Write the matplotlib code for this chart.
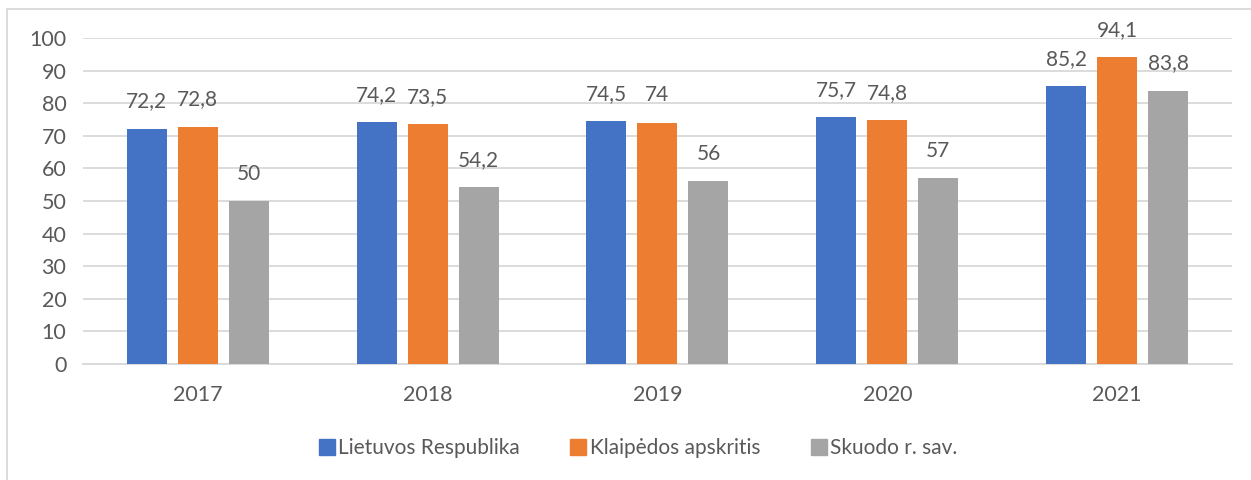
import matplotlib
matplotlib.use("Agg")
import matplotlib.pyplot as plt
from matplotlib.lines import Line2D
import numpy as np

plt.rcParams['font.family'] = ['Lato', 'DejaVu Sans']

years = ["2017", "2018", "2019", "2020", "2021"]
series_names = ["Lietuvos Respublika", "Klaipėdos apskritis", "Skuodo r. sav."]
lietuvos = [72.2, 74.2, 74.5, 75.7, 85.2]
klaipedos = [72.8, 73.5, 74.0, 74.8, 94.1]
skuodo = [50.0, 54.2, 56.0, 57.0, 83.8]
labels_lt = ["72,2", "74,2", "74,5", "75,7", "85,2"]
labels_kl = ["72,8", "73,5", "74", "74,8", "94,1"]
labels_sk = ["50", "54,2", "56", "57", "83,8"]
colors = ["#4472C4", "#ED7D31", "#A5A5A5"]
text_color = "#595959"

fig = plt.figure(figsize=(12.51, 4.8), dpi=100)
ax = fig.add_axes([0.0663, 0.2417, 0.9185, 0.6791])

x = np.arange(len(years))
width = 0.174
offsets = [-0.222, 0.0, 0.222]
all_vals = [lietuvos, klaipedos, skuodo]
all_labels = [labels_lt, labels_kl, labels_sk]

for vals, labs, off, col, name in zip(all_vals, all_labels, offsets, colors, series_names):
    bars = ax.bar(x + off, vals, width, color=col, label=name, zorder=3)
    for b, lab in zip(bars, labs):
        ax.annotate(lab, (b.get_x() + b.get_width() / 2, b.get_height()),
                    xytext=(0, 12.5), textcoords="offset points",
                    ha="center", va="bottom", fontsize=15, color=text_color)

ax.set_xlim(-0.5, len(years) - 0.5)
ax.set_ylim(0, 100)
ax.set_yticks(np.arange(0, 101, 10))
ax.set_xticks(x)
ax.set_xticklabels(years)
ax.yaxis.grid(True, color="#D9D9D9", linewidth=1.3, zorder=0)
ax.set_axisbelow(True)
for s in ["top", "right", "left"]:
    ax.spines[s].set_visible(False)
ax.spines["bottom"].set_color("#D9D9D9")
ax.spines["bottom"].set_linewidth(1.3)
ax.tick_params(axis="both", length=0, labelsize=15.5, colors=text_color)
ax.tick_params(axis="y", pad=12)
ax.tick_params(axis="x", pad=15)

handles = [Line2D([0], [0], marker="s", linestyle="none", markersize=11,
                  markerfacecolor=c, markeredgecolor=c) for c in colors]
leg = fig.legend(handles, series_names, loc="center", bbox_to_anchor=(0.509, 0.067),
                 ncol=3, frameon=False, fontsize=15, handletextpad=0.05,
                 columnspacing=2.3, handlelength=1.0)
for t in leg.get_texts():
    t.set_color(text_color)

# chart border (top and left visible)
fig.add_artist(Line2D([7 / 1251, 1.0], [1 - 9 / 480, 1 - 9 / 480], color="#D9D9D9", lw=1.3,
                      transform=fig.transFigure))
fig.add_artist(Line2D([7 / 1251, 7 / 1251], [0, 1 - 9 / 480], color="#D9D9D9", lw=1.3,
                      transform=fig.transFigure))

fig.savefig("out.png", dpi=100)
